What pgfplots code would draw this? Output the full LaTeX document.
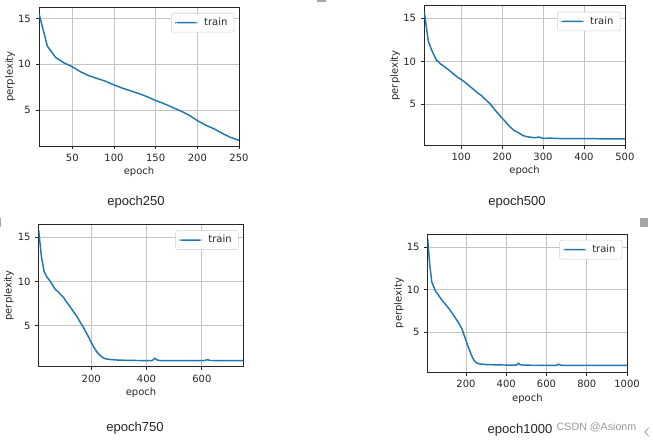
\documentclass[border=0pt]{standalone}
\usepackage{pgfplots}
\pgfplotsset{compat=1.18}
\usepackage{fontspec}
\setmainfont{DejaVu Sans}
\newfontfamily\capfont{Liberation Sans}
\definecolor{c0}{HTML}{1F77B4}
\definecolor{gridc}{HTML}{C4C4C4}
\definecolor{txt}{HTML}{262626}
\pgfplotsset{
  trainline/.style={color=c0, line width=1.1pt, mark=none},
  mplstyle/.style={
    scale only axis, anchor=north west,
    xlabel={epoch}, ylabel={perplexity},
    /pgf/number format/assume math mode=true,
    /pgf/number format/1000 sep={},
    grid=major, grid style={color=gridc, line width=0.55pt},
    axis line style={black!85, line width=0.6pt},
    tick style={black!85, line width=0.6pt},
    tick align=outside, major tick length=2.6pt,
    xtick pos=bottom, ytick pos=left,
    ytick={5,10,15},
    tick label style={font=\fontsize{7.5}{9}\selectfont, text=txt},
    every axis x label/.style={at={(axis description cs:0.5,0)}, anchor=center, yshift=-19.5pt, font=\fontsize{7.5}{9}\selectfont, text=txt},
    every axis y label/.style={at={(axis description cs:-0.145,0.5)}, anchor=center, rotate=90, font=\fontsize{7.5}{9}\selectfont, text=txt},
    legend style={at={(axis description cs:0.977,0.957)}, anchor=north east, draw=gray!35, rounded corners=1.5pt, fill=white, font=\fontsize{7.5}{9}\selectfont, text=txt, inner xsep=3pt, inner ysep=1.5pt},
    legend image code/.code={\fill[fill=c0, draw=none] (0pt,-0.55pt) rectangle (16.5pt,0.55pt); \path (19pt,0pt);},
    xmin=10,
  }
}
\begin{document}
\begin{tikzpicture}
\path[use as bounding box] (0pt,0pt) rectangle (489.75pt,-330.75pt);
% ---- epoch 250
\begin{axis}[mplstyle, at={(29.25pt,-5.25pt)}, width=150pt, height=104.25pt,
  xmax=250, ymin=1.07, ymax=16.27, xtick={50,100,150,200,250}]
\addplot[trainline] table {
x y
10 15.55
20 12.0
30 10.75
40 10.16
50 9.73
60 9.18
70 8.75
80 8.45
90 8.15
100 7.75
110 7.4
120 7.1
130 6.8
140 6.45
150 6.05
160 5.7
170 5.3
180 4.9
190 4.45
200 3.85
210 3.35
220 2.95
230 2.45
240 2.0
250 1.7
};
\addlegendentry{train}
\end{axis}
% ---- epoch 500
\begin{axis}[mplstyle, at={(318.2pt,-4.3pt)}, width=150.5pt, height=104.5pt,
  xmax=500, ymin=0.27, ymax=16.47, xtick={100,200,300,400,500}]
\addplot[trainline] table {
x y
10 15.75
20 12.3
30 11.1
40 10.15
50 9.7
60 9.35
70 9.0
80 8.6
90 8.2
100 7.9
110 7.55
120 7.15
130 6.75
140 6.35
150 6.0
160 5.55
170 5.1
180 4.5
190 3.95
200 3.4
210 2.9
220 2.35
230 1.95
240 1.7
250 1.4
260 1.25
270 1.18
280 1.12
290 1.2
300 1.06
320 1.07
340 1.03
360 1.02
380 1.03
400 1.02
420 1.01
440 1.0
460 1.0
480 1.0
500 1.0
};
\addlegendentry{train}
\end{axis}
% ---- epoch 750
\begin{axis}[mplstyle, at={(29.0pt,-168.2pt)}, width=153.5pt, height=106.8pt,
  xmax=750, ymin=0.36, ymax=16.47, xtick={200,400,600}]
\addplot[trainline] table {
x y
10 15.8
20 12.8
30 11.1
40 10.5
50 10.1
60 9.6
70 9.1
80 8.85
90 8.5
100 8.2
110 7.7
120 7.3
130 6.85
140 6.4
150 5.95
160 5.4
170 4.9
180 4.3
190 3.75
200 3.1
210 2.55
220 2.05
230 1.7
240 1.42
250 1.27
260 1.2
280 1.14
300 1.1
330 1.08
360 1.06
400 1.05
420 1.05
430 1.3
440 1.1
450 1.05
500 1.05
550 1.04
600 1.04
610 1.06
620 1.15
630 1.06
680 1.04
750 1.04
};
\addlegendentry{train}
\end{axis}
% ---- epoch 1000
\begin{axis}[mplstyle, at={(320.8pt,-175.5pt)}, width=149.5pt, height=103.7pt,
  xmax=1000, ymin=0.25, ymax=16.53, xtick={200,400,600,800,1000}]
\addplot[trainline] table {
x y
10 15.9
20 12.9
30 10.9
40 10.3
50 9.75
60 9.45
70 9.1
80 8.75
100 8.2
120 7.6
140 6.9
160 6.2
180 5.35
190 4.65
200 4.0
210 3.3
220 2.7
230 2.1
240 1.65
250 1.4
260 1.27
280 1.2
300 1.16
350 1.12
400 1.1
450 1.1
460 1.3
470 1.12
500 1.08
600 1.07
650 1.07
660 1.2
670 1.08
700 1.06
800 1.05
900 1.05
1000 1.05
};
\addlegendentry{train}
\end{axis}
% captions
\node[font=\capfont\fontsize{9.8}{11}\selectfont, text=txt] at (102pt,-151.9pt) {epoch250};
\node[font=\capfont\fontsize{9.8}{11}\selectfont, text=txt] at (387.75pt,-151.5pt) {epoch500};
\node[font=\capfont\fontsize{9.8}{11}\selectfont, text=txt] at (101.25pt,-321pt) {epoch750};
\node[font=\capfont\fontsize{9.8}{11}\selectfont, text=txt] at (390pt,-322.5pt) {epoch1000};
\node[font=\capfont\fontsize{8}{9}\selectfont, text=gray!80] at (447.4pt,-320.25pt) {CSDN @Asionm};
% screenshot decorations
\fill[gray!70] (480pt,-163.5pt) rectangle (486pt,-170pt);
\fill[gray!70] (0pt,-163.5pt) rectangle (0.8pt,-170pt);
\fill[gray!70] (237.75pt,0pt) rectangle (244.5pt,-1.5pt);
\draw[gray!80, line width=0.6pt] (486.5pt,-321pt) -- (483.5pt,-324pt) -- (486.5pt,-327pt);
\end{tikzpicture}
\end{document}
